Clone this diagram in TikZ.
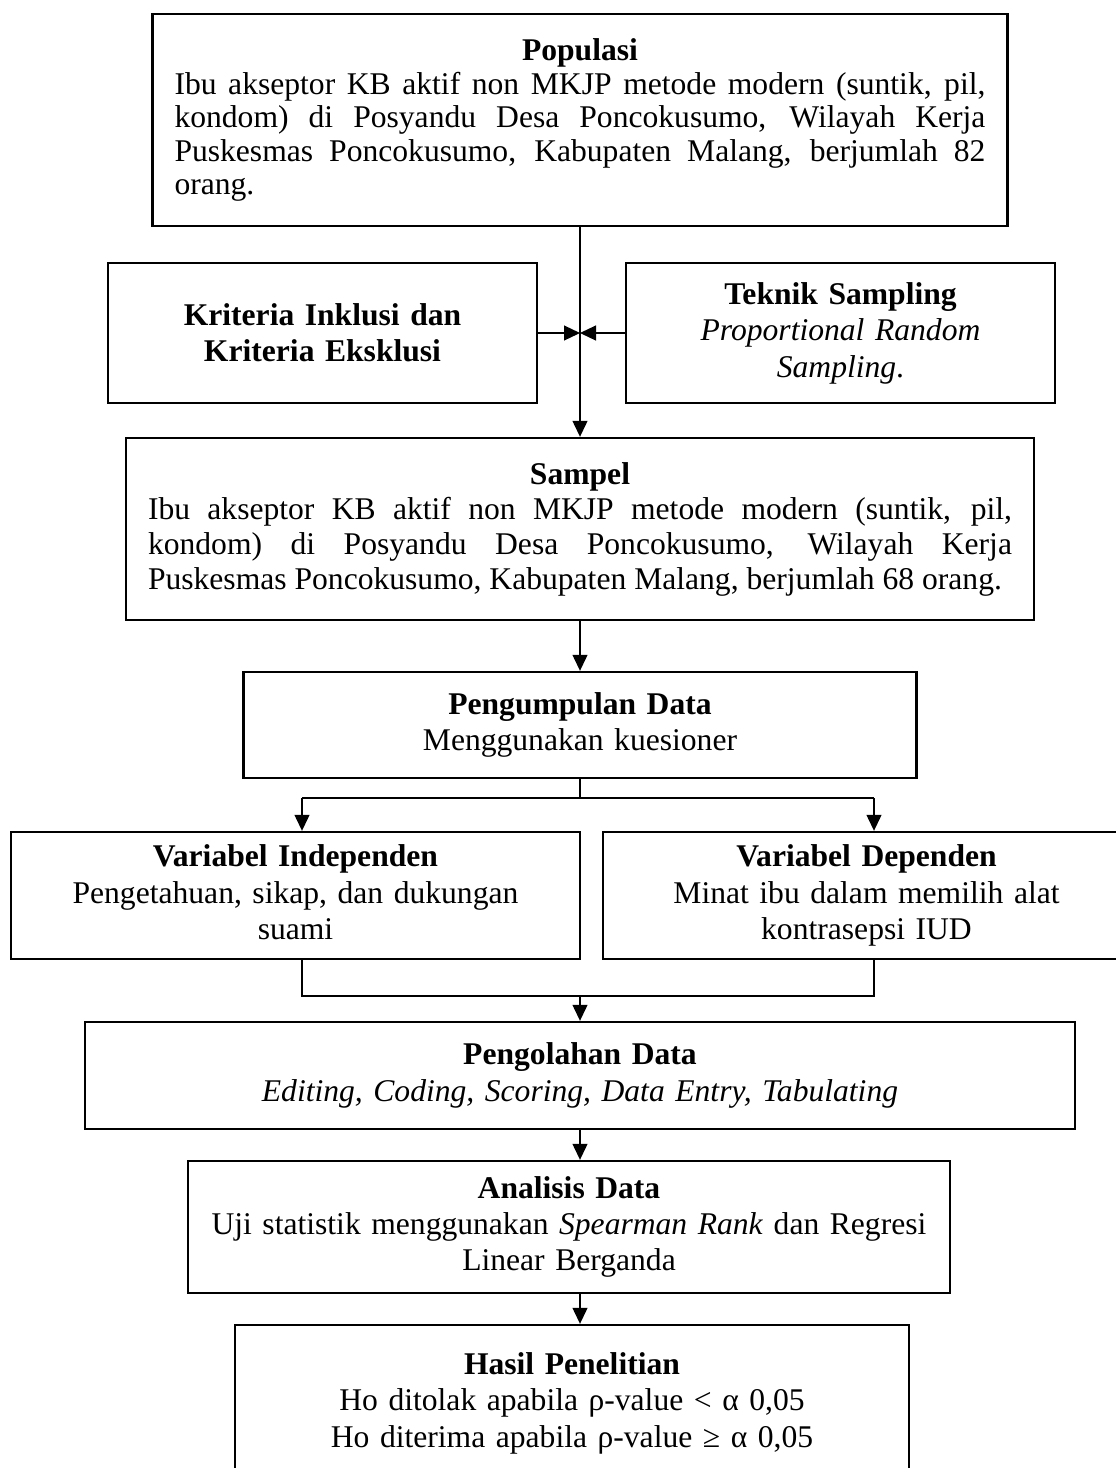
\documentclass[tikz,border=0pt]{standalone}
\usepackage{fontspec}
\setmainfont{Liberation Serif}
\usetikzlibrary{arrows.meta}
\tolerance=9999
\hyphenpenalty=10000
\tikzset{
    flow-box/.style = {draw, line width=2.4pt, rectangle, inner xsep=22pt, inner ysep=0pt, font=\fontsize{31.6}{36.4}\selectfont},
    flow-line/.style = {line width=1.2pt},
    flow-arrow/.style = {flow-line, -{Triangle[length=16pt,width=15pt]}},
}

\begin{document}
\begin{tikzpicture}[x=1pt, y=-1pt]
\useasboundingbox (0,0) rectangle (1116,1468);

\node [flow-box, text width=811, minimum height=212, align=justify, font=\fontsize{31.6}{33.5}\selectfont] (pop) at (580,120) {%
    {\centering\textbf{Populasi}\par}
    Ibu akseptor KB aktif non MKJP metode modern (suntik, pil,\linebreak
    kondom) di Posyandu Desa Poncokusumo, Wilayah Kerja\linebreak
    Puskesmas Poncokusumo, Kabupaten Malang, berjumlah 82\linebreak
    orang.};
\node [flow-box, text width=385, minimum height=140, align=center] (krit) at (322.5,333)
    {\textbf{Kriteria Inklusi dan}\\\textbf{Kriteria Eksklusi}};
\node [flow-box, text width=385, minimum height=140, align=center] (tek) at (840.5,333)
    {\textbf{Teknik Sampling}\\\textit{Proportional Random}\\\textit{Sampling}.};
\node [flow-box, text width=864, minimum height=182, align=justify, font=\fontsize{31.6}{35}\selectfont] (sampel) at (580,529) {%
    {\centering\textbf{Sampel}\par}
    Ibu akseptor KB aktif non MKJP metode modern (suntik, pil,\linebreak
    kondom) di Posyandu Desa Poncokusumo, Wilayah Kerja\linebreak
    Puskesmas Poncokusumo, Kabupaten Malang, berjumlah 68 orang.};
\node [flow-box, text width=629, minimum height=106, align=center] (kumpul) at (580,725)
    {\textbf{Pengumpulan Data}\\Menggunakan kuesioner};
\node [flow-box, text width=525, minimum height=127, align=center] (indep) at (295.5,895.5)
    {\textbf{Variabel Independen}\\Pengetahuan, sikap, dan dukungan\\suami\vphantom{p}};
\node [flow-box, text width=483, minimum height=127, align=center] (dep) at (866.5,895.5)
    {\textbf{Variabel Dependen}\\Minat ibu dalam memilih alat\\kontrasepsi IUD};
\node [flow-box, text width=946, minimum height=107, align=center] (olah) at (580,1075.5)
    {\textbf{Pengolahan Data}\\\textit{Editing, Coding, Scoring, Data Entry, Tabulating}};
\node [flow-box, text width=718, minimum height=132, align=center] (analisis) at (569,1227)
    {\textbf{Analisis Data}\\Uji statistik menggunakan \textit{Spearman Rank} dan Regresi\\Linear Berganda};
\node [flow-box, text width=630, minimum height=156, align=center] (hasil) at (572,1403)
    {\textbf{Hasil Penelitian}\\Ho ditolak apabila ρ-value < α 0,05\\Ho diterima apabila ρ-value ≥ α 0,05};

% helper points for the spine and the two branches
\coordinate (spine) at (580,0);
\coordinate (lft) at (302,0);
\coordinate (rgt) at (874,0);
\coordinate (split) at (580,798);
\coordinate (merge) at (580,996);

\draw [flow-arrow] (pop.south) -- (sampel.north);
\draw [flow-arrow] (krit.east) -- (krit.east -| spine);
\draw [flow-arrow] (tek.west) -- (tek.west -| spine);
\draw [flow-arrow] (sampel.south) -- (kumpul.north);

\draw [flow-line] (kumpul.south) -- (split);
\draw [flow-line] (lft |- split) -- (rgt |- split);
\draw [flow-arrow] (lft |- split) -- (lft |- indep.north);
\draw [flow-arrow] (rgt |- split) -- (rgt |- dep.north);

\draw [flow-line] (lft |- indep.south) -- (lft |- merge) -- (rgt |- merge) -- (rgt |- dep.south);
\draw [flow-arrow] (merge) -- (olah.north);
\draw [flow-arrow] (olah.south -| spine) -- (analisis.north -| spine);
\draw [flow-arrow] (analisis.south -| spine) -- (hasil.north -| spine);
\end{tikzpicture}
\end{document}
